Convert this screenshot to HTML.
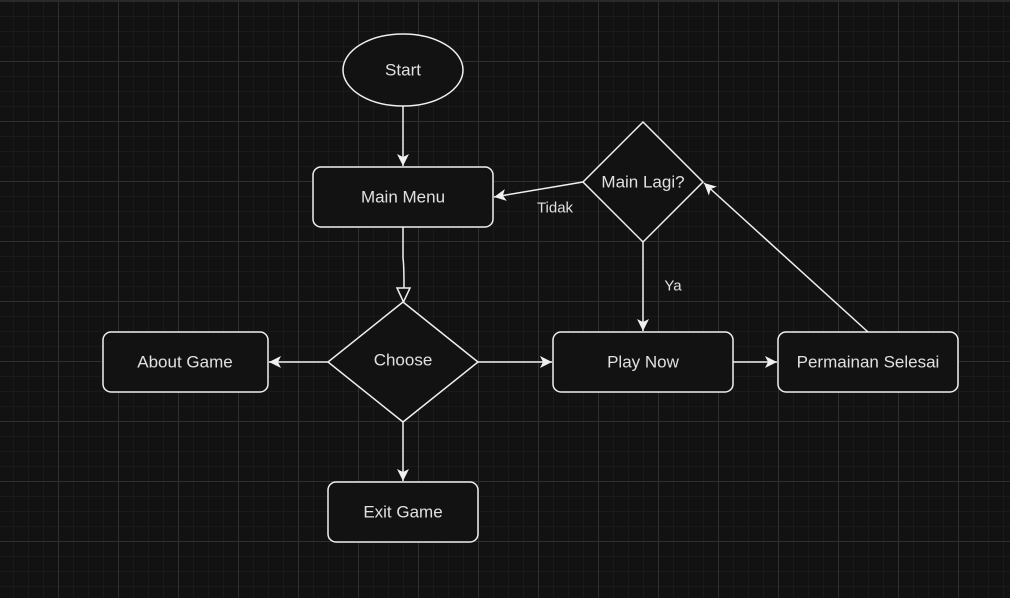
<!DOCTYPE html>
<html><head><meta charset="utf-8"><style>
html,body{margin:0;padding:0;background:#121212;}
svg{display:block}
text{font-family:"Liberation Sans",Arial,sans-serif;fill:#e0e0e0;font-size:17px;text-anchor:middle;dominant-baseline:central}
</style></head><body>
<svg width="1010" height="598" viewBox="0 0 1010 598" xmlns="http://www.w3.org/2000/svg">
<defs>
<pattern id="minor" x="13" y="16" width="15" height="15" patternUnits="userSpaceOnUse">
<path d="M0 0H15M0 0V15" stroke="#1d1d1d" stroke-width="1.5" fill="none"/>
</pattern>
<pattern id="major" x="58" y="61" width="60" height="60" patternUnits="userSpaceOnUse">
<path d="M0 0.5H60M0.5 0V60" stroke="#2f2f2f" stroke-width="1" fill="none"/>
</pattern>
<marker id="a" markerWidth="14" markerHeight="12" refX="12" refY="6" orient="auto" markerUnits="userSpaceOnUse">
<path d="M0 0L12 6L0 12L3 6Z" fill="#f0f0f0"/>
</marker>
</defs>
<rect width="1010" height="598" fill="#121212"/>
<rect width="1010" height="598" fill="url(#minor)"/>
<rect width="1010" height="598" fill="url(#major)"/>
<rect width="1010" height="2" fill="#2a2a2a"/>
<g stroke="#f0f0f0" stroke-width="1.5" fill="none">
<line x1="403" y1="106" x2="403" y2="166" marker-end="url(#a)"/>
<path d="M403 227 L403 258 Q404 265 404 288"/>
<path d="M397 288 L410 288 L403.5 302 Z" fill="#121212"/>
<line x1="328" y1="362" x2="269" y2="362" marker-end="url(#a)"/>
<line x1="403" y1="422" x2="403" y2="481" marker-end="url(#a)"/>
<line x1="478" y1="362" x2="552" y2="362" marker-end="url(#a)"/>
<line x1="733" y1="362" x2="777" y2="362" marker-end="url(#a)"/>
<line x1="868" y1="332" x2="704" y2="183" marker-end="url(#a)"/>
<line x1="643" y1="242" x2="643" y2="331" marker-end="url(#a)"/>
<line x1="583" y1="182" x2="494" y2="197" marker-end="url(#a)"/>
</g>
<g stroke="#f0f0f0" stroke-width="1.5" fill="#121212">
<ellipse cx="403" cy="70" rx="60" ry="36"/>
<rect x="313" y="167" width="180" height="60" rx="8"/>
<path d="M403 302 L478 362 L403 422 L328 362 Z"/>
<rect x="103" y="332" width="165" height="60" rx="8"/>
<rect x="328" y="482" width="150" height="60" rx="8"/>
<rect x="553" y="332" width="180" height="60" rx="8"/>
<rect x="778" y="332" width="180" height="60" rx="8"/>
<path d="M643 122 L703 182 L643 242 L583 182 Z"/>
</g>
<text x="403" y="70">Start</text>
<text x="403" y="197">Main Menu</text>
<text x="403" y="360">Choose</text>
<text x="185" y="362">About Game</text>
<text x="403" y="512">Exit Game</text>
<text x="643" y="362">Play Now</text>
<text x="868" y="362">Permainan Selesai</text>
<text x="643" y="182">Main Lagi?</text>
<text x="673" y="286" style="font-size:15px">Ya</text>
<text x="555" y="208" style="font-size:15px">Tidak</text>
</svg>
</body></html>
